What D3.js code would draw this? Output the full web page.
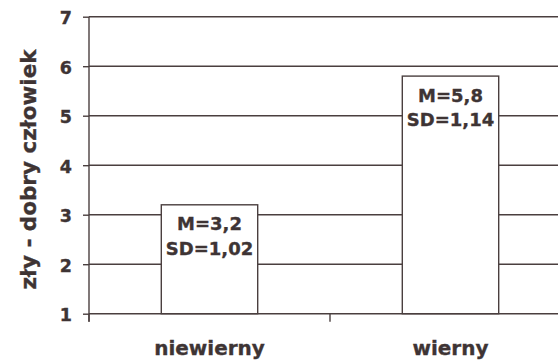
<!DOCTYPE html>
<html><head><meta charset="utf-8">
<script src="https://cdn.jsdelivr.net/npm/d3@7"></script>
<style>
html,body{margin:0;padding:0;background:#fff;}
svg{display:block;}
text{font-family:"DejaVu Sans",Verdana,sans-serif;font-weight:bold;fill:#3e3434;stroke:#3e3434;stroke-width:0.35px;}
</style></head>
<body>
<script>
const categories = ["niewierny", "wierny"];
const means = [3.2, 5.8];
const sds = ["1,02", "1,14"];
const meanLabels = ["3,2", "5,8"];
const yTicks = [1, 2, 3, 4, 5, 6, 7];
const yTitle = "zły - dobry człowiek";

const W = 558, H = 360;
const margin = {left: 89, top: 16.7, right: -13, bottom: 46.3};
const lineColor = "#4a3f3f";

const svg = d3.select("body").append("svg").attr("width", W).attr("height", H);

const x = d3.scaleBand().domain(categories)
  .range([margin.left, W - margin.right]).paddingInner(0.6).paddingOuter(0.3);
const y = d3.scaleLinear().domain([1, 7]).range([H - margin.bottom, margin.top]);

// gridlines
svg.append("g").selectAll("line").data(yTicks.slice(1)).join("line")
  .attr("x1", margin.left).attr("x2", W - margin.right)
  .attr("y1", d => y(d)).attr("y2", d => y(d))
  .attr("stroke", lineColor).attr("stroke-width", 1.4);

// y axis
const yAxis = svg.append("g").attr("transform", `translate(${margin.left},0)`)
  .call(d3.axisLeft(y).tickValues(yTicks).tickSize(6).tickPadding(11).tickFormat(d3.format("d")));
yAxis.select(".domain").attr("stroke", lineColor).attr("stroke-width", 1.4).attr("d", `M0,${margin.top}V${H - margin.bottom + 8}`);
yAxis.selectAll(".tick line").attr("stroke", lineColor).attr("stroke-width", 1.4);
yAxis.selectAll("text").style("font-size", "17.5px").attr("dy", "0.4em");

// bars
svg.append("g").selectAll("rect").data(categories).join("rect")
  .attr("x", d => x(d)).attr("width", x.bandwidth())
  .attr("y", (d, i) => y(means[i])).attr("height", (d, i) => y(1) - y(means[i]))
  .attr("fill", "#fff").attr("stroke", lineColor).attr("stroke-width", 1.4);

// x axis
const x0 = y(1);
svg.append("line").attr("x1", margin.left).attr("x2", W - margin.right)
  .attr("y1", x0).attr("y2", x0).attr("stroke", lineColor).attr("stroke-width", 1.4);
svg.append("g").selectAll("line").data(categories).join("line")
  .attr("x1", d => x(d) - x.step() * x.paddingOuter()).attr("x2", d => x(d) - x.step() * x.paddingOuter())
  .attr("y1", x0).attr("y2", x0 + 8).attr("stroke", lineColor).attr("stroke-width", 1.4);

svg.append("g").selectAll("text").data(categories).join("text")
  .attr("x", d => x(d) + x.bandwidth() / 2).attr("y", 355)
  .attr("text-anchor", "middle").style("font-size", "20px").text(d => d);

// bar labels
const lab = svg.append("g").selectAll("g").data(categories).join("g");
lab.append("text").attr("x", d => x(d) + x.bandwidth() / 2).attr("y", (d, i) => y(means[i]) + 25.5)
  .attr("text-anchor", "middle").style("font-size", "18px").text((d, i) => "M=" + meanLabels[i]);
lab.append("text").attr("x", d => x(d) + x.bandwidth() / 2).attr("y", (d, i) => y(means[i]) + 50)
  .attr("text-anchor", "middle").style("font-size", "18px").text((d, i) => "SD=" + sds[i]);

// y title
svg.append("text").attr("transform", `translate(35.5,169.5) rotate(-90)`)
  .attr("text-anchor", "middle").style("font-size", "21.5px").text(yTitle);
</script>
</body></html>
